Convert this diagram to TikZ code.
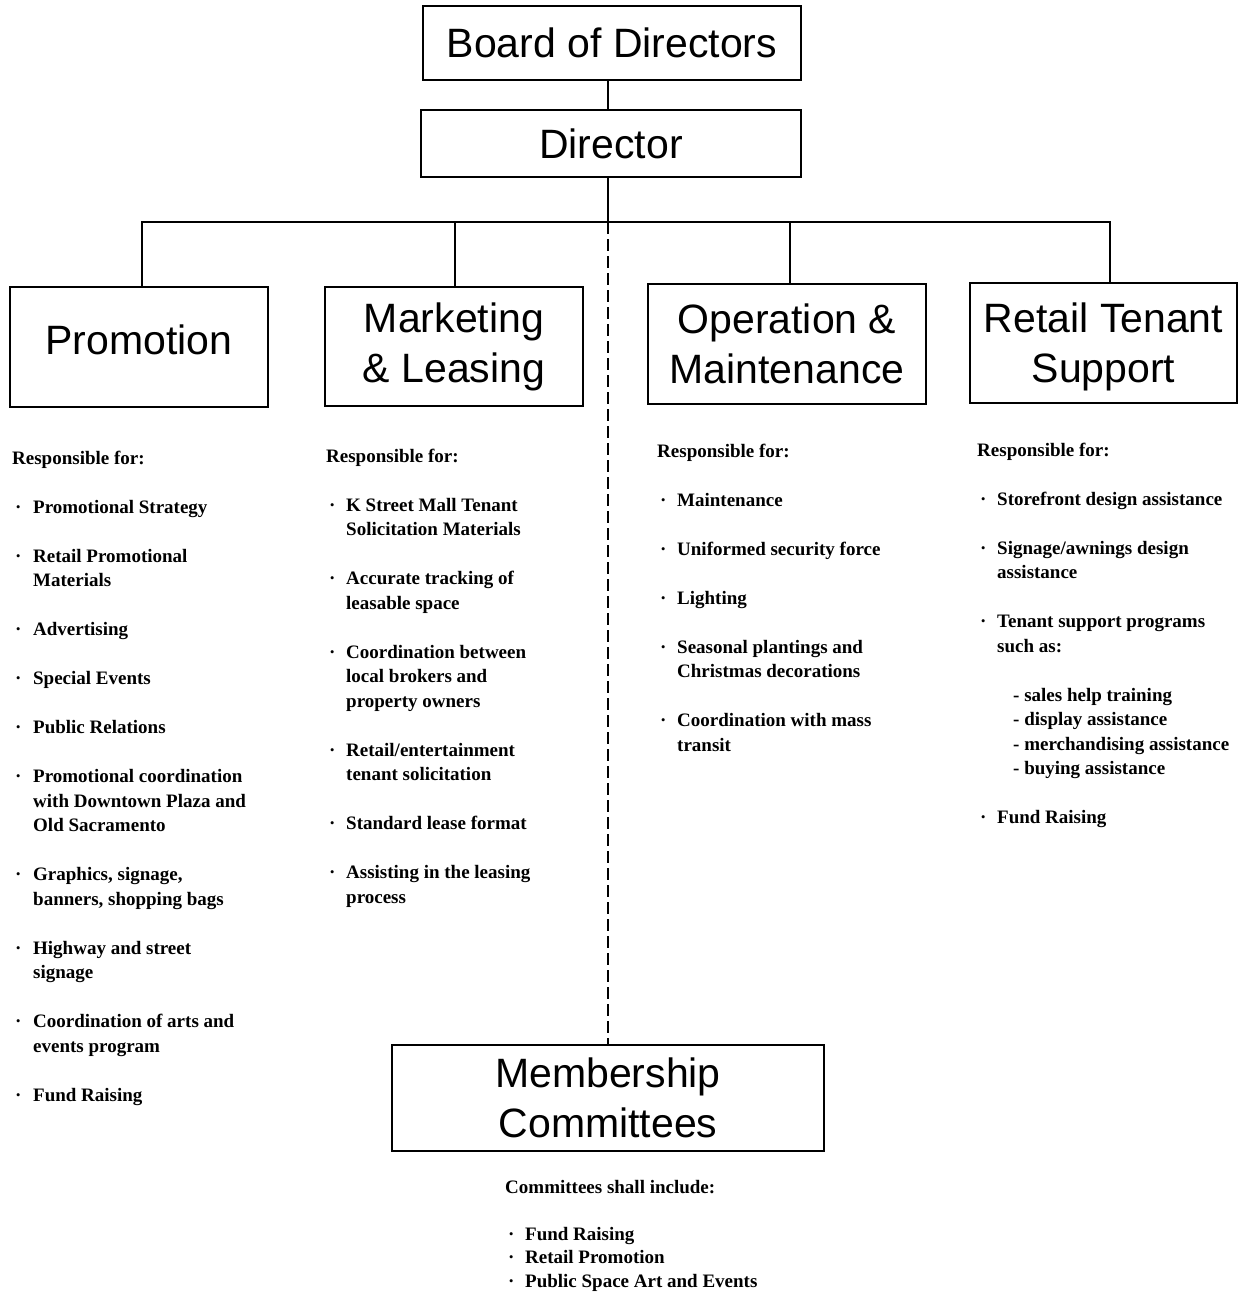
\documentclass[tikz,border=0pt]{standalone}
\usepackage{fontspec}
\setmainfont{Liberation Serif}
\newfontfamily\titlefont{Liberation Sans}
\newcommand\bul{\makebox[20pt][l]{\hspace{3pt}·}}
\newcommand\ind{\hspace*{20pt}}
\begin{document}
\begin{tikzpicture}[x=1pt,y=-1pt,
  box/.style={draw, line width=2.8pt, inner sep=0pt, align=center,
    font=\titlefont\fontsize{41}{50}\selectfont},
  conn/.style={line width=2pt},
  dashconn/.style={line width=2pt, dash pattern=on 12pt off 5pt},
  col/.style={anchor=base west, inner sep=0pt,
    font=\bfseries\fontsize{19}{24.5}\selectfont},
  memcol/.style={anchor=base west, inner sep=0pt,
    font=\bfseries\fontsize{19}{23.6}\selectfont}
]
\fill[white] (0,0) rectangle (1238,1296);
\useasboundingbox (0,0) rectangle (1238,1296);

% boxes
\node[box, minimum width=378pt, minimum height=74pt] (bod) at (612,43) {Board of Directors};
\node[box, minimum width=380pt, minimum height=67pt] (dir) at (611,143.5) {Director};
\node[box, minimum width=258pt, minimum height=120pt, text depth=14pt] (prom) at (139,347) {Promotion};
\node[box, minimum width=258pt, minimum height=119pt] (mkt) at (454,346.5) {Marketing\\\& Leasing};
\node[box, minimum width=278pt, minimum height=120pt] (ops) at (787,344) {Operation \&\\Maintenance};
\node[box, minimum width=267pt, minimum height=120pt, text height=88pt] (ret) at (1103.5,343) {Retail Tenant\\Support};
\node[box, minimum width=432pt, minimum height=106pt] (mem) at (608,1098) {Membership\\Committees};

% connectors
\coordinate (hub) at (608,222);
\draw[conn] (bod.south -| hub) -- (dir.north -| hub);
\draw[conn] (dir.south -| hub) -- (hub);
\coordinate (pl) at (142,222);
\coordinate (ml) at (455,222);
\coordinate (ol) at (790,222);
\coordinate (rl) at (1110,222);
\draw[conn] (prom.north -| pl) -- (pl) -- (rl) -- (ret.north -| rl);
\draw[conn] (ml) -- (mkt.north -| ml);
\draw[conn] (ol) -- (ops.north -| ol);
\draw[dashconn] (hub) -- (mem.north);

% lists
\node[col] (promlist) at (12,464) {\begin{tabular}[t]{@{}l@{}}
Responsible for:\\
\\
\bul\hspace{1pt}Promotional Strategy\\
\\
\bul\hspace{1pt}Retail Promotional\\
\ind\hspace{1pt}Materials\\
\\
\bul\hspace{1pt}Advertising\\
\\
\bul\hspace{1pt}Special Events\\
\\
\bul\hspace{1pt}Public Relations\\
\\
\bul\hspace{1pt}Promotional coordination\\
\ind\hspace{1pt}with Downtown Plaza and\\
\ind\hspace{1pt}Old Sacramento\\
\\
\bul\hspace{1pt}Graphics, signage,\\
\ind\hspace{1pt}banners, shopping bags\\
\\
\bul\hspace{1pt}Highway and street\\
\ind\hspace{1pt}signage\\
\\
\bul\hspace{1pt}Coordination of arts and\\
\ind\hspace{1pt}events program\\
\\
\bul\hspace{1pt}Fund Raising
\end{tabular}};

\node[col] (mktlist) at (326,462) {\begin{tabular}[t]{@{}l@{}}
Responsible for:\\
\\
\bul K Street Mall Tenant\\
\ind Solicitation Materials\\
\\
\bul Accurate tracking of\\
\ind leasable space\\
\\
\bul Coordination between\\
\ind local brokers and\\
\ind property owners\\
\\
\bul Retail/entertainment\\
\ind tenant solicitation\\
\\
\bul Standard lease format\\
\\
\bul Assisting in the leasing\\
\ind process
\end{tabular}};

\node[col] (opslist) at (657,457) {\begin{tabular}[t]{@{}l@{}}
Responsible for:\\
\\
\bul Maintenance\\
\\
\bul Uniformed security force\\
\\
\bul Lighting\\
\\
\bul Seasonal plantings and\\
\ind Christmas decorations\\
\\
\bul Coordination with mass\\
\ind transit
\end{tabular}};

\node[col] (retlist) at (977,456) {\begin{tabular}[t]{@{}l@{}}
Responsible for:\\
\\
\bul Storefront design assistance\\
\\
\bul Signage/awnings design\\
\ind assistance\\
\\
\bul Tenant support programs\\
\ind such as:\\
\\
\ind\hspace*{16pt}- sales help training\\
\ind\hspace*{16pt}- display assistance\\
\ind\hspace*{16pt}- merchandising assistance\\
\ind\hspace*{16pt}- buying assistance\\
\\
\bul Fund Raising
\end{tabular}};

\node[memcol] (memlist) at (505,1193) {\begin{tabular}[t]{@{}l@{}}
Committees shall include:\\
\\
\bul Fund Raising\\
\bul Retail Promotion\\
\bul Public Space Art and Events
\end{tabular}};
\end{tikzpicture}
\end{document}
